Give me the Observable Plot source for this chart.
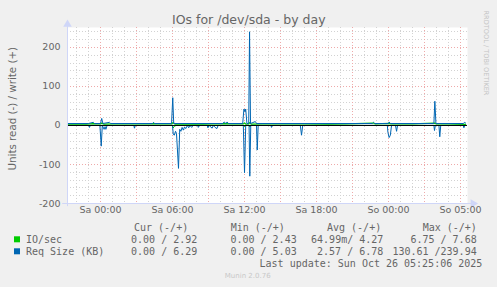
<!DOCTYPE html>
<html><head><meta charset="utf-8">
<script src="https://cdn.jsdelivr.net/npm/d3@7"></script>
<script src="https://cdn.jsdelivr.net/npm/@observablehq/plot@0.6"></script>
<style>body{margin:0;background:#f0f0f0;} svg{display:block}</style>
</head><body><div id="chart"></div>
<script>
// ---- data (hours elapsed since Sa 00:00) ----
const xTickHours = [0, 6, 12, 18, 24, 30];
const xTickLabels = ["Sa 00:00", "Sa 06:00", "Sa 12:00", "Sa 18:00", "So 00:00", "So 05:00"];
const yTicks = [-200, -100, 0, 100, 200];

const ioWriteHours = [-2.75,-2.0,-1.2,-0.6,0.0,0.1,0.3,1.0,2.0,3.0,4.4,5.0,5.95,6.05,6.2,7.0,8.5,10.3,11.9,12.0,12.1,12.35,12.42,12.55,13.5,15.0,17.0,19.0,20.5,22.75,22.9,24.05,24.2,26.0,27.86,28.0,29.0,30.42];
const ioWriteValues = [3.4,4.0,3.6,4.5,3.8,6.0,3.5,4.2,3.7,4.0,4.6,3.8,4.1,7.68,3.3,4.0,3.6,4.8,4.0,6.5,3.6,4.0,7.2,3.5,4.1,3.7,4.0,3.6,4.2,6.2,3.8,5.2,3.9,4.0,6.0,3.8,4.1,2.92];

const ioReadHours = [-2.75,5.97,6.05,6.15,6.3,11.95,12.02,12.1,12.38,12.45,12.55,30.42];
const ioReadValues = [0,0,6.75,2,0,0,3,0,0,4,0,0];

const reqWriteHours = [-2.75,-1.0,-0.6,-0.5,0.0,0.1,0.2,0.75,0.85,4.35,4.42,4.5,5.92,6.02,6.1,10.2,10.3,10.45,10.55,10.65,11.85,11.95,12.05,12.1,12.2,12.35,12.42,12.5,12.9,13.0,22.65,22.75,22.85,24.0,24.05,24.15,27.78,27.86,27.95,30.25,30.32,30.42];
const reqWriteValues = [5,5,8,5,5,18,5,8,5,5,8,5,5,71,5,5,9,5,9,5,5,42,35,42,5,5,240,5,10,5,5,8,5,5,9,5,5,62,5,5,8,6.29];

const reqReadHours = [-2.75,-0.97,-0.92,-0.85,-0.05,0.06,0.15,0.3,0.38,0.45,0.55,2.78,2.83,2.9,6.0,6.06,6.15,6.25,6.33,6.5,6.6,6.7,6.8,6.9,7.0,7.1,7.25,7.35,7.45,7.6,7.7,8.1,8.15,8.25,8.9,8.95,9.05,9.3,9.4,9.55,9.7,9.8,11.9,12.0,12.1,12.38,12.44,12.52,13.0,13.06,13.14,14.2,14.25,14.33,16.65,16.75,16.85,23.9,23.95,24.05,24.15,24.25,24.58,24.67,24.75,27.78,27.83,27.9,28.2,28.27,28.35,30.22,30.28,30.35,30.42];
const reqReadValues = [0,0,5,0,0,53,0,10,3,10,0,0,7,0,0,22,25,15,20,110,10,15,5,12,4,8,0,6,0,5,0,0,5,0,0,6,0,7,0,5,8,0,0,121,0,0,130,0,0,63,0,0,5,0,0,25,0,0,18,31,25,0,0,15,0,0,13,0,0,29,0,0,6,0,0];

const legendNames = ["IO/sec", "Req Size (KB)"];
const legendColors = ["#00cc00", "#0066b3"];
const curVals = ["0.00 / 2.92", "0.00 / 6.29"];
const minVals = ["0.00 / 2.43", "0.00 / 5.03"];
const avgVals = ["64.99m/ 4.27", "2.57 / 6.78"];
const maxVals = ["6.75 / 7.68", "130.61 /239.94"];

// ---- tables ----
const toRows = (hs, vs, sign) => hs.map((h, i) => ({h, v: sign * vs[i]}));
const ioW = toRows(ioWriteHours, ioWriteValues, 1);
const ioR = toRows(ioReadHours, ioReadValues, -1);
const rqW = toRows(reqWriteHours, reqWriteValues, 1);
const rqR = toRows(reqReadHours, reqReadValues, -1);

const xMin = -2.75, xMax = 30.58, yMin = -200, yMax = 251;
const minorHours = d3.range(-2, 31).filter(h => h % 3 !== 0);
const majorHours = d3.range(0, 31, 3);
const minorY = d3.range(-180, 251, 20).filter(v => v % 100 !== 0);
const majorY = d3.range(-100, 201, 100);

const axisColor = "#cfd6f8";
const fontColor = "#666666";
const gridStyle = {stroke: "#d2d2d2", strokeDasharray: "1,2", shapeRendering: "crispEdges"};
const mgridStyle = {stroke: "#eeaaaa", strokeDasharray: "1,2", shapeRendering: "crispEdges"};

const chart = Plot.plot({
  width: 497, height: 287,
  marginLeft: 67, marginRight: 30, marginTop: 27, marginBottom: 84,
  style: {background: "#f0f0f0", fontFamily: "DejaVu Sans", color: fontColor, overflow: "visible"},
  x: {domain: [xMin, xMax], axis: null},
  y: {domain: [yMin, yMax], axis: null},
  marks: [
    Plot.frame({fill: "white", stroke: null}),
    Plot.ruleX(minorHours, gridStyle),
    Plot.ruleY(minorY, gridStyle),
    Plot.ruleX(majorHours, mgridStyle),
    Plot.ruleY(majorY, mgridStyle),
    Plot.line(ioR, {x: "h", y: "v", stroke: legendColors[0], strokeWidth: 1}),
    Plot.line(ioW, {x: "h", y: "v", stroke: legendColors[0], strokeWidth: 1.2}),
    Plot.line(rqR, {x: "h", y: "v", stroke: legendColors[1], strokeWidth: 1}),
    Plot.line(rqW, {x: "h", y: "v", stroke: legendColors[1], strokeWidth: 1}),
    Plot.ruleY([0], {stroke: "black", strokeWidth: 1}),
    Plot.ruleX([xMin], {y1: yMin - 8, y2: 258, stroke: axisColor, clip: false}),
    Plot.ruleY([yMin], {x1: -3.15, x2: 31.0, stroke: axisColor, clip: false}),
    Plot.dot([[xMin, 259]], {x: d => d[0], y: d => d[1], symbol: "triangle", r: 3.2, fill: axisColor, stroke: null}),
    Plot.dot([[31.05, yMin]], {x: d => d[0], y: d => d[1], symbol: "triangle", r: 3.2, rotate: 90, fill: axisColor, stroke: null}),
    Plot.text(yTicks, {y: d => d, text: d => String(d), frameAnchor: "left", textAnchor: "end", dx: -7, fontSize: 9.5, fill: fontColor}),
    Plot.text(xTickHours, {x: d => d, text: (d, i) => xTickLabels[i], frameAnchor: "bottom", dy: 9.5, fontSize: 9.5, fill: fontColor})
  ]
});
document.getElementById("chart").appendChild(chart);

// ---- annotations ----
const svg = d3.select(chart);
const add = (x, y, txt, opts = {}) => {
  const t = svg.append("text")
    .attr("x", x).attr("y", y)
    .attr("dominant-baseline", "central")
    .attr("text-anchor", opts.anchor || "start")
    .attr("font-family", opts.family || "DejaVu Sans")
    .attr("font-size", opts.size || 10)
    .attr("fill", opts.fill || fontColor)
    .attr("xml:space", "preserve")
    .style("white-space", "pre")
    .text(txt);
  if (opts.rotate) t.attr("transform", `rotate(${opts.rotate},${x},${y})`);
  return t;
};
add(248.8, 19, "IOs for /dev/sda - by day", {anchor: "middle", size: 12.5});
add(11.7, 108.7, "Units read (-) / write (+)", {anchor: "middle", size: 10.3, rotate: -90});
add(485.7, 53, "RRDTOOL / TOBI OETIKER", {anchor: "middle", size: 6.6, rotate: 90, fill: "#c4c4c4"});

const mono = {family: "DejaVu Sans Mono", size: 10};
add(134, 227.7, "Cur (-/+)", mono);
add(230.7, 227.7, "Min (-/+)", mono);
add(327, 227.7, "Avg (-/+)", mono);
add(422.7, 227.7, "Max (-/+)", mono);
const rowY = [239.3, 251.3];
legendNames.forEach((name, i) => {
  svg.append("rect").attr("x", 14).attr("y", rowY[i] - 3).attr("width", 6).attr("height", 6).attr("fill", legendColors[i]);
  add(26, rowY[i], name, mono);
  add(197.3, rowY[i], curVals[i], {...mono, anchor: "end"});
  add(296.7, rowY[i], minVals[i], {...mono, anchor: "end"});
  add(383.3, rowY[i], avgVals[i], {...mono, anchor: "end"});
  add(476.7, rowY[i], maxVals[i], {...mono, anchor: "end"});
});
add(482.3, 263.3, "Last update: Sun Oct 26 05:25:06 2025", {...mono, anchor: "end"});
add(247.7, 276, "Munin 2.0.76", {anchor: "middle", size: 7, fill: "#c8c8c8"});
</script></body></html>
